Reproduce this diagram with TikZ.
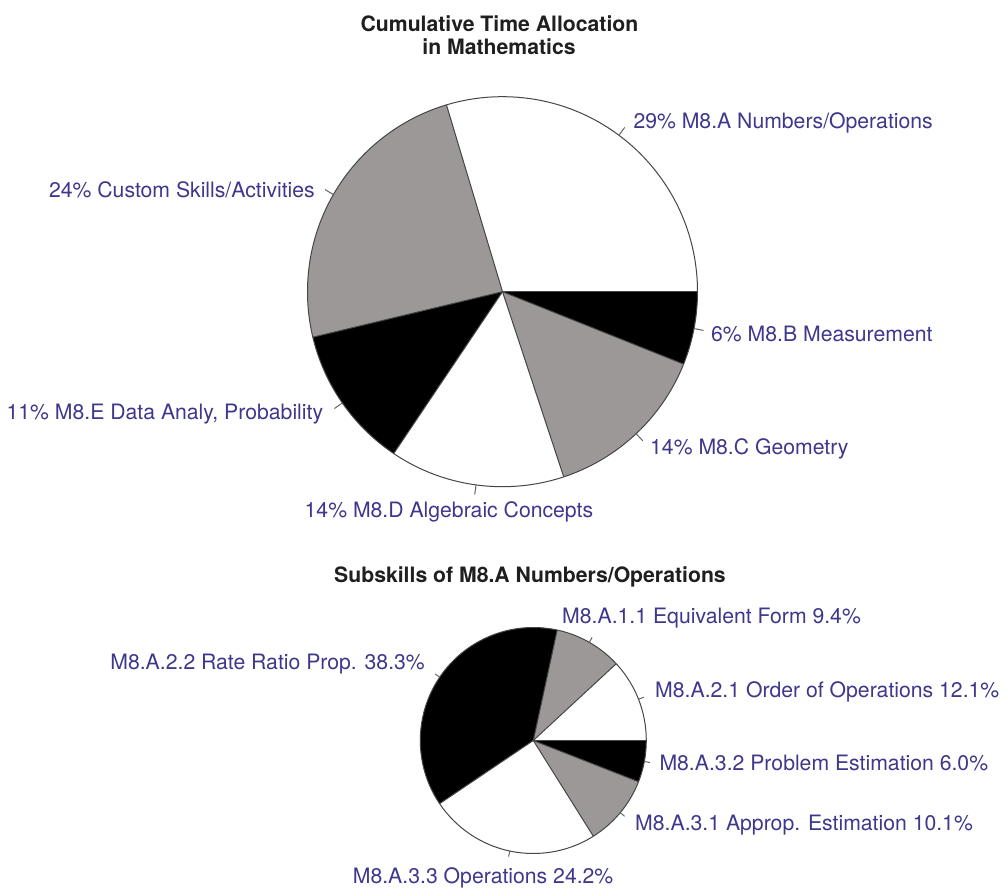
\documentclass[tikz,border=0pt]{standalone}
\usepackage{fontspec}
\setmainfont{TeX Gyre Heros}
\definecolor{labelblue}{RGB}{62,56,140}
\definecolor{slicegray}{RGB}{156,152,152}
\definecolor{edgegray}{RGB}{70,70,70}
\begin{document}
\begin{tikzpicture}[x=1pt,y=1pt,
  lbl/.style={inner sep=0pt, text=labelblue, font=\fontsize{21.2}{25}\selectfont},
  ttl/.style={inner sep=0pt, text=black!88, font=\fontsize{21.2}{25}\selectfont\bfseries},
  edge/.style={draw=edgegray, line width=1pt},
  tick/.style={draw=black!60, line width=1pt}]
\useasboundingbox (0,0) rectangle (1002,887);
\fill[white] (0,0) rectangle (1002,887);

% ---------- titles ----------
\node[ttl, anchor=base] (title1) at (499.5,855.3) {Cumulative Time Allocation};
\node[ttl, anchor=base] (title2) at (499,832) {in Mathematics};
\node[ttl, anchor=base] (title3) at (530,304.3) {Subskills of M8.A Numbers/Operations};

% ---------- cumulative time pie ----------
\def\rTop{195}
\coordinate (A) at (502.5,595.3);
\foreach \s/\e/\c in {0/106.7/white, 106.7/193.5/slicegray, 193.5/236.1/black,
                      236.1/288.3/white, 288.3/338.2/slicegray, 338.2/360/black}{
  \fill[\c] (A) -- ++(\s:\rTop) arc[start angle=\s, end angle=\e, radius=\rTop] -- cycle;
}
\foreach \a in {0,106.7,193.5,236.1,288.3,338.2}{
  \draw[edge] (A) -- ++(\a:\rTop);
}
\draw[edge] (A) circle[radius=\rTop];
\foreach \a in {53.35,150.1,214.8,262.2,313.25,349.1}{
  \draw[tick] ([shift={(\a:\rTop)}]A) -- ([shift={(\a:1.05*\rTop)}]A);
}

\node[lbl, anchor=base west] (la) at (633.3,758) {29\% M8.A Numbers/Operations};
\node[lbl, anchor=base east] (lcust) at (315,689.7) {24\% Custom Skills/Activities};
\node[lbl, anchor=base west] (lb) at (711,545.3) {6\% M8.B Measurement};
\node[lbl, anchor=base east] (le) at (323.3,467) {11\% M8.E Data Analy, Probability};
\node[lbl, anchor=base west] (lc) at (650,432.7) {14\% M8.C Geometry};
\node[lbl, anchor=base west] (ld) at (304.5,369.3) {14\% M8.D Algebraic Concepts};

% ---------- subskills pie ----------
\def\rBot{113}
\coordinate (B) at (533.3,146.5);
\foreach \s/\e/\c in {0/42.8/white, 42.8/77.8/slicegray, 77.8/214/black,
                      214/302.1/white, 302.1/338.6/slicegray, 338.6/360/black}{
  \fill[\c] (B) -- ++(\s:\rBot) arc[start angle=\s, end angle=\e, radius=\rBot] -- cycle;
}
\foreach \a in {0,42.8,77.8,214,302.1,338.6}{
  \draw[edge] (B) -- ++(\a:\rBot);
}
\draw[edge] (B) circle[radius=\rBot];
\foreach \a in {21.4,60.3,145.9,258,320.3,349.3}{
  \draw[tick] ([shift={(\a:\rBot)}]B) -- ([shift={(\a:1.05*\rBot)}]B);
}

\node[lbl, anchor=base west] (s11) at (562,263.7) {M8.A.1.1 Equivalent Form 9.4\%};
\node[lbl, anchor=base west] (s21) at (655,189.7) {M8.A.2.1 Order of Operations 12.1\%};
\node[lbl, anchor=base west] (s32) at (659.3,116) {M8.A.3.2 Problem Estimation 6.0\%};
\node[lbl, anchor=base west] (s31) at (635,56.5) {M8.A.3.1 Approp. Estimation 10.1\%};
\node[lbl, anchor=base east] (s22) at (425,217) {M8.A.2.2 Rate Ratio Prop. 38.3\%};
\node[lbl, anchor=base west] (s33) at (352.7,3.7) {M8.A.3.3 Operations 24.2\%};
\end{tikzpicture}
\end{document}
